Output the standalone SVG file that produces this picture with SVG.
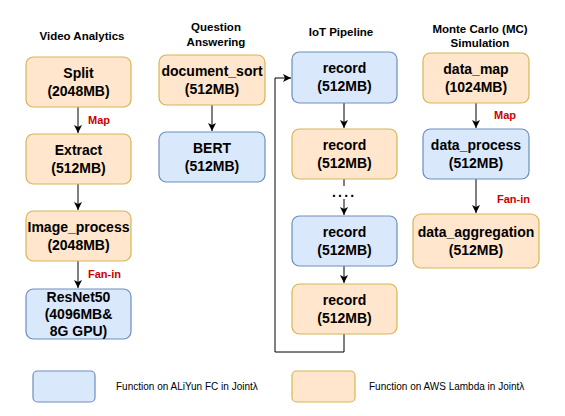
<svg xmlns="http://www.w3.org/2000/svg" width="565" height="416" viewBox="0 0 565 416">
<defs>
<style>
.aws{fill:#ffe6cc;stroke:#d6b656;stroke-width:1.2}
.ali{fill:#dae8fc;stroke:#6c8ebf;stroke-width:1.2}
.t{font-family:"Liberation Sans",Arial,sans-serif;font-weight:bold;font-size:14px;fill:#000;text-anchor:middle}
.h{font-family:"Liberation Sans",Arial,sans-serif;font-weight:bold;font-size:11.5px;fill:#000;text-anchor:middle}
.lab{font-family:"Liberation Sans",Arial,sans-serif;font-weight:bold;font-size:11px;fill:#cc0000}
.leg{font-family:"Liberation Sans",Arial,sans-serif;font-size:10px;fill:#000}
.e{fill:none;stroke:#000;stroke-width:1}
</style>
<marker id="arr" markerWidth="10" markerHeight="8" refX="8" refY="4" orient="auto" markerUnits="userSpaceOnUse">
<path d="M0,0 L8,4 L0,8 L2,4 Z" fill="#000"/>
</marker>
</defs>
<rect width="565" height="416" fill="#fff"/>

<g id="titles">
<text class="h" x="82" y="40">Video Analytics</text>
<text class="h" x="216" y="31">Question</text>
<text class="h" x="216" y="46">Answering</text>
<text class="h" x="341" y="36">IoT Pipeline</text>
<text class="h" x="480" y="33">Monte Carlo (MC)</text>
<text class="h" x="480" y="47">Simulation</text>
</g>

<g id="connectors">
<path class="e" d="M78,107 V133" marker-end="url(#arr)"/>
<path class="e" d="M78,184 V210" marker-end="url(#arr)"/>
<path class="e" d="M78,261 V288" marker-end="url(#arr)"/>
<path class="e" d="M212,105 V131" marker-end="url(#arr)"/>
<path class="e" d="M344,103 V128" marker-end="url(#arr)"/>
<path class="e" d="M344,179 V186"/>
<path class="e" d="M344,199 V215" marker-end="url(#arr)"/>
<path class="e" d="M344,266 V283" marker-end="url(#arr)"/>
<path class="e" d="M344,334 V352 H275 V78 H291" marker-end="url(#arr)"/>
<path class="e" d="M476,103 V128" marker-end="url(#arr)"/>
<path class="e" d="M476,179 V213" marker-end="url(#arr)"/>
<text class="lab" x="88" y="124">Map</text>
<text class="lab" x="88" y="278">Fan-in</text>
<text class="lab" x="494" y="119">Map</text>
<text class="lab" x="497" y="203">Fan-in</text>
<text class="t" x="342" y="197" style="text-anchor:start" transform="translate(-10,0)" letter-spacing="2.2">....</text>
</g>

<g id="split"><rect class="aws" x="26" y="57" width="105" height="50" rx="7.5"/><text class="t" x="78.5" y="78">Split</text><text class="t" x="78.5" y="96">(2048MB)</text></g>
<g id="extract"><rect class="aws" x="26" y="134" width="105" height="50" rx="7.5"/><text class="t" x="78.5" y="155">Extract</text><text class="t" x="78.5" y="173">(512MB)</text></g>
<g id="image_process"><rect class="aws" x="26" y="211" width="105" height="50" rx="7.5"/><text class="t" x="78.5" y="232">Image_process</text><text class="t" x="78.5" y="250">(2048MB)</text></g>
<g id="resnet50"><rect class="ali" x="26" y="289" width="105" height="50" rx="7.5"/><text class="t" x="78.5" y="302">ResNet50</text><text class="t" x="78.5" y="319">(4096MB&amp;</text><text class="t" x="78.5" y="336">8G GPU)</text></g>

<g id="document_sort"><rect class="aws" x="159" y="55" width="106" height="50" rx="7.5"/><text class="t" x="212" y="76">document_sort</text><text class="t" x="212" y="94">(512MB)</text></g>
<g id="bert"><rect class="ali" x="159" y="132" width="106" height="50" rx="7.5"/><text class="t" x="212" y="153">BERT</text><text class="t" x="212" y="171">(512MB)</text></g>

<g id="record1"><rect class="ali" x="292" y="52" width="105" height="51" rx="7.5"/><text class="t" x="344.5" y="73">record</text><text class="t" x="344.5" y="91">(512MB)</text></g>
<g id="record2"><rect class="aws" x="292" y="129" width="105" height="50" rx="7.5"/><text class="t" x="344.5" y="150">record</text><text class="t" x="344.5" y="168">(512MB)</text></g>
<g id="record3"><rect class="ali" x="292" y="216" width="105" height="50" rx="7.5"/><text class="t" x="344.5" y="237">record</text><text class="t" x="344.5" y="255">(512MB)</text></g>
<g id="record4"><rect class="aws" x="292" y="284" width="105" height="50" rx="7.5"/><text class="t" x="344.5" y="305">record</text><text class="t" x="344.5" y="323">(512MB)</text></g>

<g id="data_map"><rect class="aws" x="423" y="53" width="106" height="50" rx="7.5"/><text class="t" x="476" y="74">data_map</text><text class="t" x="476" y="92">(1024MB)</text></g>
<g id="data_process"><rect class="ali" x="423" y="129" width="106" height="50" rx="7.5"/><text class="t" x="476" y="150">data_process</text><text class="t" x="476" y="168">(512MB)</text></g>
<g id="data_aggregation"><rect class="aws" x="413" y="214" width="126" height="54" rx="8"/><text class="t" x="476" y="237">data_aggregation</text><text class="t" x="476" y="255">(512MB)</text></g>

<g id="legend">
<rect class="ali" x="33" y="371" width="62" height="31" rx="4.5"/>
<text class="leg" x="116" y="389.5">Function on ALiYun FC in Jointλ</text>
<rect class="aws" x="292" y="371" width="63" height="31" rx="4.5"/>
<text class="leg" x="369" y="389.5">Function on AWS Lambda in Jointλ</text>
</g>
</svg>
